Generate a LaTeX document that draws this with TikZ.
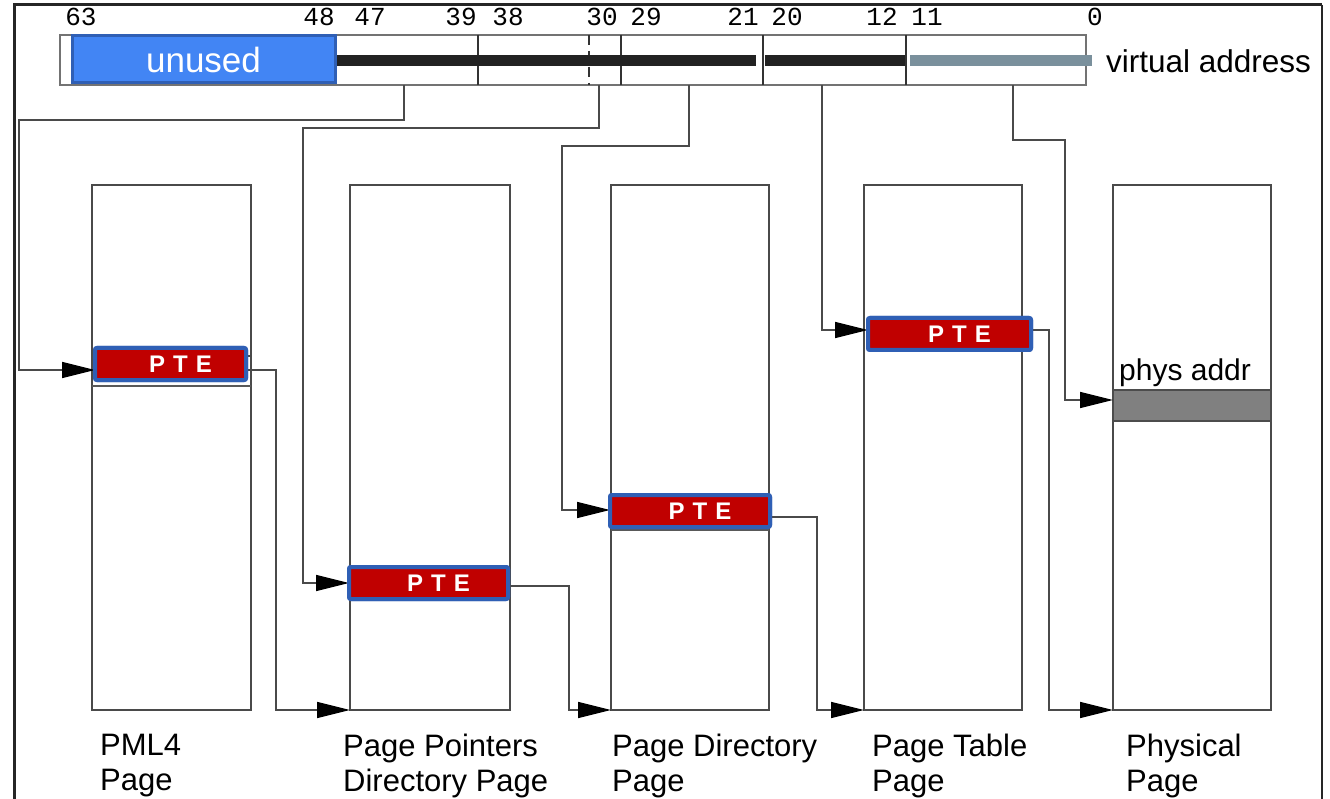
\documentclass[tikz,border=0pt]{standalone}
\usepackage{fontspec}
\setmainfont{Liberation Sans}
\newfontfamily\monof{Liberation Mono}
\usetikzlibrary{arrows.meta,calc}
\definecolor{ublue}{HTML}{4285F4}
\definecolor{bblue}{HTML}{2F5FB5}
\definecolor{pred}{HTML}{C00000}
\definecolor{lgray}{HTML}{4A4A4A}
\definecolor{sbar}{HTML}{7A909C}
\definecolor{dbar}{HTML}{222222}
\begin{document}
\begin{tikzpicture}[x=1pt,y=-1pt,
  page/.style={draw=lgray, line width=1.5pt, minimum width=#1, minimum height=525pt, anchor=north west, inner sep=0pt, outer sep=0pt},
  pte/.style={draw=bblue, fill=pred, line width=4pt, rounded corners=2pt, anchor=north west, inner sep=0pt, outer sep=0pt, minimum height=32pt, minimum width=#1, text=white, font=\bfseries\fontsize{24}{24}\selectfont},
  conn/.style={draw=lgray, line width=1.5pt},
  arr/.style={conn, -{Triangle[length=33pt,width=16pt,color=black]}},
  bitnum/.style={font=\monof\fontsize{26}{26}\selectfont, inner sep=0pt},
  lbl/.style={font=\fontsize{31}{35}\selectfont, align=left, anchor=north west, inner sep=0pt},
  divider/.style={draw=black!80, line width=1.5pt}
]
\useasboundingbox (0,0) rectangle (1330,799);
\fill[white] (0,0) rectangle (1330,799);
% frame
\draw[line width=3pt, black!85] (14,799) -- (14,5) -- (1322,5);
\draw[line width=2pt, black!85] (1322,5) -- (1322,799);

% virtual address bar
\node[draw=black!55, line width=1.5pt, anchor=north west, minimum width=1026pt, minimum height=50pt, inner sep=0pt, outer sep=0pt] (va) at (60,35) {};
\draw[divider] (478,35) -- (478,85);
\draw[divider] (621,35) -- (621,85);
\draw[divider] (763,35) -- (763,85);
\draw[divider] (906,35) -- (906,85);
\draw[divider, dash pattern=on 10pt off 6pt] (589,35) -- (589,85);
\draw[dbar, line width=11pt] (335,61) -- (756,61);
\draw[dbar, line width=11pt] (765,61) -- (905,61);
\draw[sbar, line width=11pt] (910,61) -- (1092,61);
\node[draw=bblue, fill=ublue, line width=3pt, anchor=north west, minimum width=263pt, minimum height=47pt, inner sep=0pt, outer sep=0pt, text=white, font=\fontsize{35}{35}\selectfont] (unused) at (72,36) {unused};

% bit numbers
\foreach \x/\t [count=\i] in {81/63,319/48,370/47,461/39,508/38,602/30,646/29,743/21,787/20,882/12,927/11,1095/0}
  \node[bitnum] (b\i) at (\x,17) {\t};
\node[anchor=west, inner sep=0pt, font=\fontsize{31.5}{31.5}\selectfont] (valbl) at (1106,61) {virtual address};

% pages
\node[page=159pt] (p1) at (92,185) {};
\node[page=160pt] (p2) at (350,185) {};
\node[page=158pt] (p3) at (611,185) {};
\node[page=158pt] (p4) at (864,185) {};
\node[page=158pt] (p5) at (1113,185) {};

% entry rows
\node[draw=lgray, line width=1.5pt, anchor=north west, minimum width=159pt, minimum height=30pt, inner sep=0pt, outer sep=0pt] (r1) at (92,356) {};
\draw[line width=2.5pt, black!65] (r1.south west) -- (r1.south east);
\coordinate (r3a) at (611,530);
\coordinate (r3b) at (769,530);
\draw[line width=2pt, black!65] (r3a) -- (r3b);
\node[draw=black!70, fill=black!50, line width=1.5pt, anchor=north west, minimum width=158pt, minimum height=31pt, inner sep=0pt, outer sep=0pt] (pa) at (1113,390) {};
\node[anchor=base west, inner sep=0pt, font=\fontsize{30}{30}\selectfont] (palbl) at (1119,381) {phys addr};

% address taps
\coordinate (tA) at (404,85);
\coordinate (tB) at (599,85);
\coordinate (tC) at (689,85);
\coordinate (tD) at (822,85);
\coordinate (tE) at (1013,85);

% PTE entries
\node[pte=151pt] (e1) at (95,348) {\hspace*{20pt}P\hspace{8pt}T\hspace{8pt}E};
\node[pte=159pt] (e2) at (349,567) {\hspace*{20pt}P\hspace{8pt}T\hspace{8pt}E};
\node[pte=160pt] (e3) at (610,495) {\hspace*{20pt}P\hspace{8pt}T\hspace{8pt}E};
\node[pte=163pt] (e4) at (868,318) {\hspace*{20pt}P\hspace{8pt}T\hspace{8pt}E};

% connectors from address
\draw[arr] (tA) -- (404,120) -- (19,120) -- (19,370) -- (e1.west |- 0,370);
\draw[arr] (tB) -- (599,128) -- (303,128) -- (303,583) -- (e2.west |- 0,583);
\draw[arr] (tC) -- (689,146) -- (562,146) -- (562,510) -- (e3.west |- 0,510);
\draw[arr] (tD) -- (822,330) -- (e4.west |- 0,330);
\draw[arr] (tE) -- (1013,140) -- (1065,140) -- (1065,400) -- (pa.west |- 0,400);

% connectors from PTEs to next page base
\draw[arr] (e1.east |- 0,370) -- (276,370) -- (276,710) -- (p2.south west);
\draw[arr] (e2.east |- 0,586) -- (569,586) -- (569,710) -- (p3.south west);
\draw[arr] (e3.east |- 0,517) -- (817,517) -- (817,710) -- (p4.south west);
\draw[arr] (e4.east |- 0,330) -- (1049,330) -- (1049,710) -- (p5.south west);

% PTEs redrawn on top of connector ends
\node[pte=151pt] at (95,348) {\hspace*{20pt}P\hspace{8pt}T\hspace{8pt}E};
\node[pte=159pt] at (349,567) {\hspace*{20pt}P\hspace{8pt}T\hspace{8pt}E};
\node[pte=160pt] at (610,495) {\hspace*{20pt}P\hspace{8pt}T\hspace{8pt}E};
\node[pte=163pt] at (868,318) {\hspace*{20pt}P\hspace{8pt}T\hspace{8pt}E};

% labels
\node[lbl] (l1) at (100,734) {PML4\\Page};
\node[lbl] (l2) at (343,734) {Page Pointers\\Directory Page};
\node[lbl] (l3) at (612,734) {Page Directory\\Page};
\node[lbl] (l4) at (872,734) {Page Table\\Page};
\node[lbl] (l5) at (1126,734) {Physical\\Page};
\end{tikzpicture}
\end{document}
